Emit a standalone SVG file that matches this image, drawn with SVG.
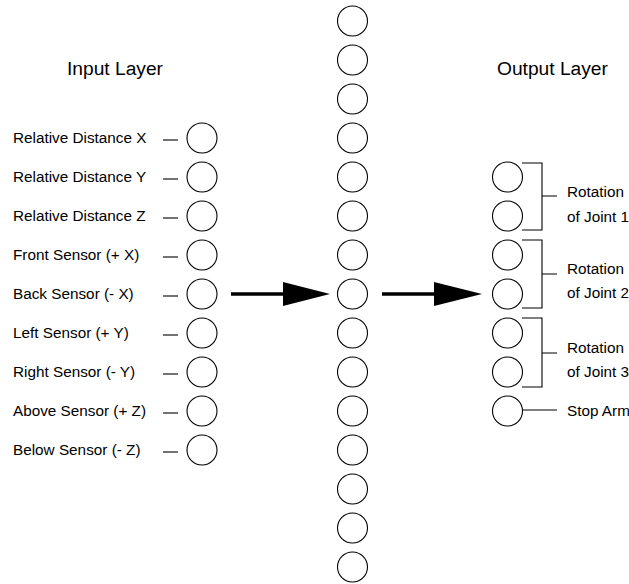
<svg xmlns="http://www.w3.org/2000/svg" width="629" height="584" viewBox="0 0 629 584">
  <style>
    .n { fill: #fff; stroke: #000; stroke-width: 1.1; }
    .t { font-family: "Liberation Sans", Arial, sans-serif; font-size: 15.3px; fill: #000; }
    .h { font-family: "Liberation Sans", Arial, sans-serif; font-size: 19.2px; fill: #000; }
    .l { stroke: #000; stroke-width: 1.1; fill: none; }
    .a { stroke: #000; stroke-width: 3.5; fill: none; }
  </style>
  <defs>
    <circle id="unit" r="15" class="n"/>
  </defs>
  <rect width="629" height="584" fill="#fff"/>

  <!-- layer titles -->
  <text class="h" x="67" y="75">Input Layer</text>
  <text class="h" x="497" y="75">Output Layer</text>

  <!-- input layer -->
  <g id="input-layer">
    <g id="in-1"><text class="t" x="13" y="143">Relative Distance X</text><line class="l" x1="163" y1="140" x2="178" y2="140"/><use href="#unit" x="202" y="138"/></g>
    <g id="in-2"><text class="t" x="13" y="182">Relative Distance Y</text><line class="l" x1="163" y1="179" x2="178" y2="179"/><use href="#unit" x="202" y="177"/></g>
    <g id="in-3"><text class="t" x="13" y="221">Relative Distance Z</text><line class="l" x1="163" y1="218" x2="178" y2="218"/><use href="#unit" x="202" y="216"/></g>
    <g id="in-4"><text class="t" x="13" y="260">Front Sensor (+ X)</text><line class="l" x1="163" y1="257" x2="178" y2="257"/><use href="#unit" x="202" y="255"/></g>
    <g id="in-5"><text class="t" x="13" y="299">Back Sensor (- X)</text><line class="l" x1="163" y1="296" x2="178" y2="296"/><use href="#unit" x="202" y="294"/></g>
    <g id="in-6"><text class="t" x="13" y="338">Left Sensor (+ Y)</text><line class="l" x1="163" y1="335" x2="178" y2="335"/><use href="#unit" x="202" y="333"/></g>
    <g id="in-7"><text class="t" x="13" y="377">Right Sensor (- Y)</text><line class="l" x1="163" y1="374" x2="178" y2="374"/><use href="#unit" x="202" y="372"/></g>
    <g id="in-8"><text class="t" x="13" y="416">Above Sensor (+ Z)</text><line class="l" x1="163" y1="413" x2="178" y2="413"/><use href="#unit" x="202" y="411"/></g>
    <g id="in-9"><text class="t" x="13" y="455">Below Sensor (- Z)</text><line class="l" x1="163" y1="452" x2="178" y2="452"/><use href="#unit" x="202" y="450"/></g>
  </g>

  <!-- hidden layer -->
  <g id="hidden-layer">
    <use href="#unit" x="352.5" y="21"/>
    <use href="#unit" x="352.5" y="60"/>
    <use href="#unit" x="352.5" y="99"/>
    <use href="#unit" x="352.5" y="138"/>
    <use href="#unit" x="352.5" y="177"/>
    <use href="#unit" x="352.5" y="216"/>
    <use href="#unit" x="352.5" y="255"/>
    <use href="#unit" x="352.5" y="294"/>
    <use href="#unit" x="352.5" y="333"/>
    <use href="#unit" x="352.5" y="372"/>
    <use href="#unit" x="352.5" y="411"/>
    <use href="#unit" x="352.5" y="450"/>
    <use href="#unit" x="352.5" y="489"/>
    <use href="#unit" x="352.5" y="528"/>
    <use href="#unit" x="352.5" y="567"/>
  </g>

  <!-- output layer -->
  <g id="output-layer">
    <g id="joint-1">
      <use href="#unit" x="507.5" y="177"/>
      <use href="#unit" x="507.5" y="216"/>
      <path class="l" d="M522 163 H542 V230 H522 M542 196 H557"/>
      <text class="t" x="567" y="197">Rotation</text>
      <text class="t" x="567" y="222">of Joint 1</text>
    </g>
    <g id="joint-2">
      <use href="#unit" x="507.5" y="255"/>
      <use href="#unit" x="507.5" y="294"/>
      <path class="l" d="M522 240 H542 V308 H522 M542 274 H557"/>
      <text class="t" x="567" y="274">Rotation</text>
      <text class="t" x="567" y="298">of Joint 2</text>
    </g>
    <g id="joint-3">
      <use href="#unit" x="507.5" y="333"/>
      <use href="#unit" x="507.5" y="372"/>
      <path class="l" d="M522 318 H542 V387 H522 M542 353 H557"/>
      <text class="t" x="567" y="353">Rotation</text>
      <text class="t" x="567" y="377">of Joint 3</text>
    </g>
    <g id="stop-arm">
      <use href="#unit" x="507.5" y="411"/>
      <line class="l" x1="522" y1="410" x2="557" y2="410"/>
      <text class="t" x="567" y="416">Stop Arm</text>
    </g>
  </g>

  <!-- connectors between layers -->
  <g id="connectors">
    <line class="a" x1="231" y1="294" x2="285" y2="294"/>
    <polygon points="283,282 330,294 283,306" fill="#000"/>
    <line class="a" x1="382" y1="294" x2="436" y2="294"/>
    <polygon points="434,282 482,294 434,306" fill="#000"/>
  </g>
</svg>
